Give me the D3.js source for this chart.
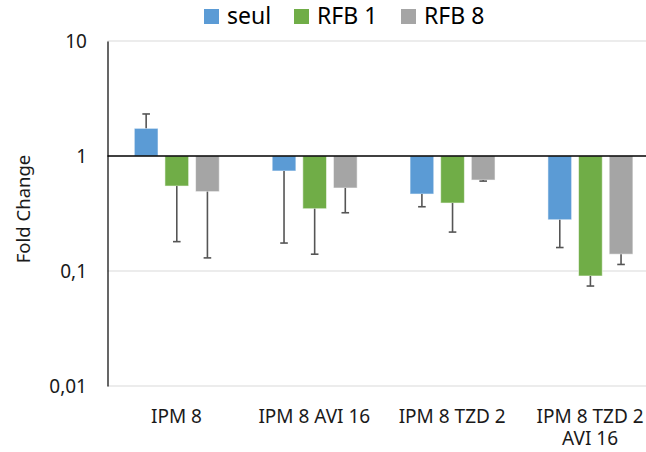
<!DOCTYPE html>
<html>
<head>
<meta charset="utf-8">
<script src="https://cdn.jsdelivr.net/npm/d3@7"></script>
<style>
  html, body { margin: 0; padding: 0; background: #fff; }
  svg { display: block; font-family: "Noto Sans", "Open Sans", sans-serif; }
</style>
</head>
<body>
<svg id="chart" width="646" height="452"></svg>
<script>
// ---- data ----
const categories = ["IPM 8", "IPM 8 AVI 16", "IPM 8 TZD 2", "IPM 8 TZD 2 AVI 16"];
const seriesNames = ["seul", "RFB 1", "RFB 8"];
const seulValues = [1.74, 0.741, 0.467, 0.279];
const seulErrEnd = [2.32, 0.175, 0.362, 0.16];
const rfb1Values = [0.548, 0.348, 0.39, 0.0905];
const rfb1ErrEnd = [0.18, 0.14, 0.218, 0.074];
const rfb8Values = [0.49, 0.527, 0.618, 0.14];
const rfb8ErrEnd = [0.13, 0.321, 0.605, 0.114];
const yTickValues = [0.01, 0.1, 1, 10];
const yTickLabels = ["0,01", "0,1", "1", "10"];
const yTitle = "Fold Change";
const seriesColors = ["#5B9BD5", "#70AD47", "#A5A5A5"];

const seriesValues = [seulValues, rfb1Values, rfb8Values];
const seriesErr = [seulErrEnd, rfb1ErrEnd, rfb8ErrEnd];

(function () {
// ---- layout ----
const svg = d3.select("#chart");
const pLeft = 107.5, pRight = 659, pTop = 41, pBottom = 386;

const y = d3.scaleLog().domain([0.01, 10]).range([pBottom, pTop]);
const x0 = d3.scaleBand().domain(categories).range([pLeft, pRight]).padding(0);
const x1 = d3.scaleBand().domain(seriesNames)
  .range([26.8, x0.bandwidth() - 26.1]).paddingInner(0.226).paddingOuter(0);

// gridlines
svg.append("g").selectAll("line").data(yTickValues.filter(v => v !== 1)).join("line")
  .attr("x1", pLeft).attr("x2", pRight)
  .attr("y1", d => y(d)).attr("y2", d => y(d))
  .attr("stroke", "#d9d9d9").attr("stroke-width", 1);

// bars
const rows = [];
categories.forEach((c, i) => {
  seriesNames.forEach((s, j) => {
    rows.push({ cat: c, ser: s, j, v: seriesValues[j][i], e: seriesErr[j][i] });
  });
});

svg.append("g").selectAll("rect").data(rows).join("rect")
  .attr("x", d => x0(d.cat) + x1(d.ser))
  .attr("width", x1.bandwidth())
  .attr("y", d => Math.min(y(d.v), y(1)))
  .attr("height", d => Math.abs(y(d.v) - y(1)))
  .attr("fill", d => seriesColors[d.j])
  .attr("stroke", "rgba(255,255,255,0.55)")
  .attr("stroke-width", 1);

// error bars
const eg = svg.append("g").attr("stroke", "#555555").attr("stroke-width", 1.6);
rows.forEach(d => {
  const cx = x0(d.cat) + x1(d.ser) + x1.bandwidth() / 2;
  eg.append("line").attr("x1", cx).attr("x2", cx)
    .attr("y1", y(d.v)).attr("y2", y(d.e));
  eg.append("line").attr("x1", cx - 3.8).attr("x2", cx + 3.8)
    .attr("y1", y(d.e)).attr("y2", y(d.e));
});

// baseline at 1
svg.append("line")
  .attr("x1", pLeft).attr("x2", pRight)
  .attr("y1", y(1)).attr("y2", y(1))
  .attr("stroke", "#000").attr("stroke-width", 1.5);

// y axis
const yAxis = d3.axisLeft(y)
  .tickValues(yTickValues)
  .tickFormat((d, i) => yTickLabels[i])
  .tickSize(0).tickSizeOuter(0).tickPadding(20.5);
const yg = svg.append("g").attr("transform", `translate(${pLeft},0)`).call(yAxis);
yg.select(".domain").attr("stroke", "#000").attr("stroke-width", 1.2);
yg.selectAll("text").attr("font-size", 19).attr("fill", "#1a1a1a")
  .attr("font-family", "Noto Sans, Open Sans, sans-serif");

// x axis labels
const xAxis = d3.axisBottom(x0).tickSize(0).tickPadding(0);
const xg = svg.append("g").attr("transform", `translate(0,${pBottom})`).call(xAxis);
xg.select(".domain").remove();
xg.selectAll("text")
  .attr("font-size", 19).attr("fill", "#1a1a1a")
  .attr("font-family", "Noto Sans, Open Sans, sans-serif")
  .attr("dy", null).attr("y", 37)
  .each(function (d) {
    const t = d3.select(this);
    const words = d.split(" ");
    t.text(null);
    let line = [];
    let tspan = t.append("tspan").attr("x", 0).attr("y", 37);
    let lineNo = 0;
    words.forEach(w => {
      line.push(w);
      tspan.text(line.join(" "));
      if (tspan.node().getComputedTextLength() > 128 && line.length > 1) {
        line.pop();
        tspan.text(line.join(" "));
        line = [w];
        lineNo++;
        tspan = t.append("tspan").attr("x", 0).attr("y", 37 + lineNo * 22).text(w);
      }
    });
  });

// y title
svg.append("text")
  .attr("transform", "translate(30,209) rotate(-90)")
  .attr("text-anchor", "middle")
  .attr("font-size", 18.5).attr("fill", "#1a1a1a")
  .text(yTitle);

// legend
const legendX = [204, 294, 401];
const lg = svg.append("g");
seriesNames.forEach((s, j) => {
  lg.append("rect").attr("x", legendX[j]).attr("y", 9).attr("width", 15).attr("height", 15)
    .attr("fill", seriesColors[j]);
  lg.append("text").attr("x", legendX[j] + 23).attr("y", 24)
    .attr("font-size", 23).attr("fill", "#000").text(s);
});
})();
</script>
</body>
</html>
